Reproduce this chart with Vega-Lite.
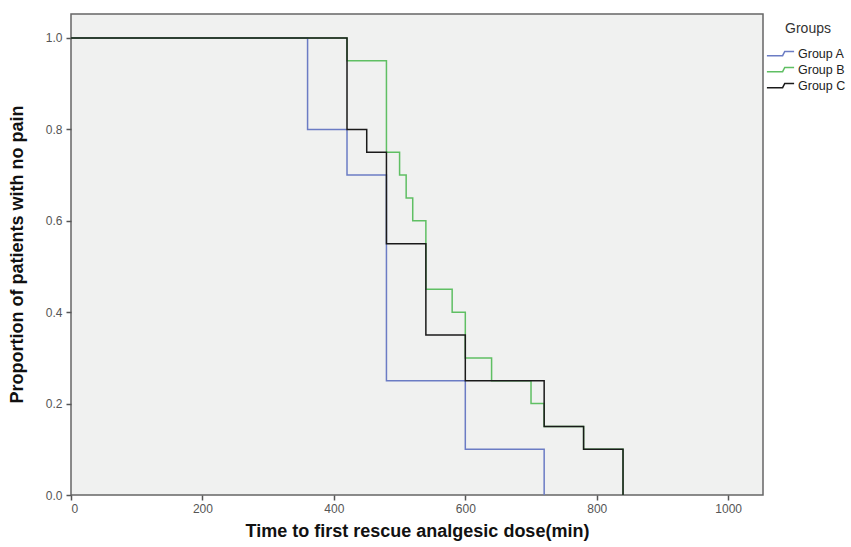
{
  "$schema": "https://vega.github.io/schema/vega-lite/v6.json",
  "width": 692,
  "height": 481,
  "autosize": "none",
  "padding": {"left": 71, "top": 14, "right": 88, "bottom": 52},
  "background": "white",
  "config": {
    "view": {"fill": "#f0f1f0", "stroke": "#666666", "strokeWidth": 1.5},
    "font": "Liberation Sans"
  },
  "data": {
    "values": [
      {"group": "Group A", "time": 0, "survival": 1.0},
      {"group": "Group A", "time": 360, "survival": 0.8},
      {"group": "Group A", "time": 420, "survival": 0.7},
      {"group": "Group A", "time": 480, "survival": 0.25},
      {"group": "Group A", "time": 600, "survival": 0.1},
      {"group": "Group A", "time": 720, "survival": 0.0},
      {"group": "Group B", "time": 0, "survival": 1.0},
      {"group": "Group B", "time": 420, "survival": 0.95},
      {"group": "Group B", "time": 480, "survival": 0.75},
      {"group": "Group B", "time": 500, "survival": 0.7},
      {"group": "Group B", "time": 510, "survival": 0.65},
      {"group": "Group B", "time": 520, "survival": 0.6},
      {"group": "Group B", "time": 540, "survival": 0.45},
      {"group": "Group B", "time": 580, "survival": 0.4},
      {"group": "Group B", "time": 600, "survival": 0.3},
      {"group": "Group B", "time": 640, "survival": 0.25},
      {"group": "Group B", "time": 700, "survival": 0.2},
      {"group": "Group B", "time": 720, "survival": 0.15},
      {"group": "Group B", "time": 780, "survival": 0.1},
      {"group": "Group B", "time": 840, "survival": 0.0},
      {"group": "Group C", "time": 0, "survival": 1.0},
      {"group": "Group C", "time": 420, "survival": 0.8},
      {"group": "Group C", "time": 450, "survival": 0.75},
      {"group": "Group C", "time": 480, "survival": 0.55},
      {"group": "Group C", "time": 540, "survival": 0.35},
      {"group": "Group C", "time": 600, "survival": 0.25},
      {"group": "Group C", "time": 720, "survival": 0.15},
      {"group": "Group C", "time": 780, "survival": 0.1},
      {"group": "Group C", "time": 840, "survival": 0.0}
    ]
  },
  "mark": {"type": "line", "interpolate": "step-after", "strokeWidth": 1.5},
  "encoding": {
    "x": {
      "field": "time",
      "type": "quantitative",
      "scale": {"domain": [0, 1053], "nice": false, "zero": false},
      "axis": {
        "title": "Time to first rescue analgesic dose(min)",
        "values": [0, 200, 400, 600, 800, 1000],
        "format": "d",
        "grid": false,
        "domain": false,
        "ticks": true,
        "tickSize": 5,
        "tickColor": "#555555",
        "tickWidth": 1.5,
        "labelFont": "Liberation Sans",
        "labelFontSize": 12,
        "labelColor": "#555555",
        "labelPadding": 3,
        "titleFont": "Liberation Sans",
        "titleFontSize": 18,
        "titleFontWeight": "bold",
        "titleColor": "#111111",
        "titlePadding": 8
      }
    },
    "y": {
      "field": "survival",
      "type": "quantitative",
      "scale": {"domain": [0, 1.0525], "nice": false},
      "axis": {
        "title": "Proportion of patients with no pain",
        "values": [0, 0.2, 0.4, 0.6, 0.8, 1.0],
        "format": ".1f",
        "grid": false,
        "domain": false,
        "ticks": true,
        "tickSize": 5,
        "tickColor": "#555555",
        "tickWidth": 1.5,
        "labelFont": "Liberation Sans",
        "labelFontSize": 12,
        "labelColor": "#555555",
        "labelPadding": 4,
        "titleFont": "Liberation Sans",
        "titleFontSize": 18,
        "titleFontWeight": "bold",
        "titleColor": "#111111",
        "titleAngle": -90,
        "titleX": -54,
        "titleY": 240,
        "titleAlign": "center",
        "titleBaseline": "middle"
      }
    },
    "color": {
      "field": "group",
      "type": "nominal",
      "scale": {"domain": ["Group A", "Group B", "Group C"], "range": ["#6b7cc4", "#5fbf63", "#1a1a1a"]},
      "legend": {
        "title": "Groups",
        "orient": "none",
        "legendX": 700,
        "legendY": 8,
        "padding": 0,
        "titleFont": "Liberation Sans",
        "titleFontSize": 14,
        "titleFontWeight": "normal",
        "titleColor": "#333333",
        "titleAnchor": "middle",
        "titlePadding": 8,
        "labelFont": "Liberation Sans",
        "labelFontSize": 12.5,
        "labelColor": "#222222",
        "labelOffset": 8,
        "rowPadding": 0,
        "symbolType": "M-1.6,0.25 L0.25,0.25 L0.5,-0.25 L1.6,-0.25",
        "symbolSize": 289,
        "symbolStrokeWidth": 1.5,
        "symbolFillColor": "transparent"
      }
    }
  }
}
